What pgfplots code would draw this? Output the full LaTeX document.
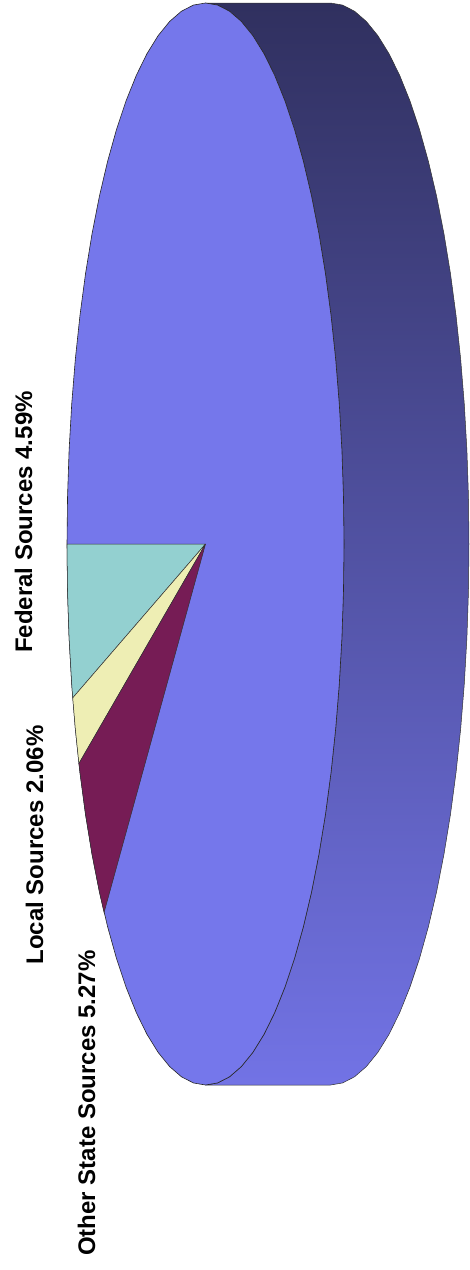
\documentclass[border=0pt]{standalone}
\usepackage{pgfplots}
\pgfplotsset{compat=1.18}
\usepackage{fontspec}
\setmainfont{Liberation Sans}
\definecolor{faceC}{HTML}{7577EB}
\definecolor{tealC}{HTML}{93D0D0}
\definecolor{yelC}{HTML}{EEEEB4}
\definecolor{marC}{HTML}{761C55}
\definecolor{sideTop}{HTML}{30305F}
\definecolor{sideBot}{HTML}{7273E5}
% Shares (percent): Federal 4.59, Local 2.06, Other State 5.27, main 88.08
\begin{document}
\begin{tikzpicture}
\begin{axis}[x=1pt, y=1pt, y dir=reverse, xmin=0, xmax=470, ymin=0, ymax=1270,
  hide axis, clip=false, scale only axis]
% side of the disc
\addplot[draw=black!80, line width=0.5pt, top color=sideTop, bottom color=sideBot, mark=none] coordinates {
(205.50,1085.00)(217.57,1082.94)(229.55,1076.78)(241.35,1066.57)(252.87,1052.37)(264.03,1034.31)(274.75,1012.52)(284.94,987.16)(294.53,958.43)(303.43,926.55)(311.60,891.75)(318.95,854.31)(325.45,814.50)(331.02,772.64)(335.65,729.03)(339.28,684.02)(341.90,637.94)(343.47,591.15)(344.00,544.00)(343.47,496.85)(341.90,450.06)(339.28,403.98)(335.65,358.97)(331.02,315.36)(325.45,273.50)(318.95,233.69)(311.60,196.25)(303.43,161.45)(294.53,129.57)(284.94,100.84)(274.75,75.48)(264.03,53.69)(252.87,35.63)(241.35,21.43)(229.55,11.22)(217.57,5.06)(205.50,3.00)
(330.50,3.00)(342.57,5.06)(354.55,11.22)(366.35,21.43)(377.87,35.63)(389.03,53.69)(399.75,75.48)(409.94,100.84)(419.53,129.57)(428.43,161.45)(436.60,196.25)(443.95,233.69)(450.45,273.50)(456.02,315.36)(460.65,358.97)(464.28,403.98)(466.90,450.06)(468.47,496.85)(469.00,544.00)(468.47,591.15)(466.90,637.94)(464.28,684.02)(460.65,729.03)(456.02,772.64)(450.45,814.50)(443.95,854.31)(436.60,891.75)(428.43,926.55)(419.53,958.43)(409.94,987.16)(399.75,1012.52)(389.03,1034.31)(377.87,1052.37)(366.35,1066.57)(354.55,1076.78)(342.57,1082.94)(330.50,1085.00)(205.50,1085.00)
};
% top face (main slice, State Sources 88.08%)
\addplot[draw=black!85, line width=0.6pt, fill=faceC, mark=none] coordinates {
(67.00,544.00)(67.53,591.15)(69.10,637.94)(71.72,684.02)(75.35,729.03)(79.98,772.64)(85.55,814.50)(92.05,854.31)(99.40,891.75)(107.57,926.55)(116.47,958.43)(126.06,987.16)(136.25,1012.52)(146.97,1034.31)(158.13,1052.37)(169.65,1066.57)(181.45,1076.78)(193.43,1082.94)(205.50,1085.00)(217.57,1082.94)(229.55,1076.78)(241.35,1066.57)(252.87,1052.37)(264.03,1034.31)(274.75,1012.52)(284.94,987.16)(294.53,958.43)(303.43,926.55)(311.60,891.75)(318.95,854.31)(325.45,814.50)(331.02,772.64)(335.65,729.03)(339.28,684.02)(341.90,637.94)(343.47,591.15)(344.00,544.00)(343.47,496.85)(341.90,450.06)(339.28,403.98)(335.65,358.97)(331.02,315.36)(325.45,273.50)(318.95,233.69)(311.60,196.25)(303.43,161.45)(294.53,129.57)(284.94,100.84)(274.75,75.48)(264.03,53.69)(252.87,35.63)(241.35,21.43)(229.55,11.22)(217.57,5.06)(205.50,3.00)(193.43,5.06)(181.45,11.22)(169.65,21.43)(158.13,35.63)(146.97,53.69)(136.25,75.48)(126.06,100.84)(116.47,129.57)(107.57,161.45)(99.40,196.25)(92.05,233.69)(85.55,273.50)(79.98,315.36)(75.35,358.97)(71.72,403.98)(69.10,450.06)(67.53,496.85)(67.00,544.00)
};
% Federal Sources 4.59%
\addplot[draw=black!80, line width=0.5pt, fill=tealC, mark=none] coordinates {
(205.5,544)(67.00,544.00)(67.53,591.15)(69.10,637.94)(71.72,684.02)(72.72,697.87)(205.5,544)
};
% Local Sources 2.06%
\addplot[draw=black!80, line width=0.5pt, fill=yelC, mark=none] coordinates {
(205.5,544)(72.72,697.87)(75.35,729.03)(78.91,763.53)(205.5,544)
};
% Other State Sources 5.27%
\addplot[draw=black!80, line width=0.5pt, fill=marC, mark=none] coordinates {
(205.5,544)(78.91,763.53)(79.98,772.64)(85.55,814.50)(92.05,854.31)(99.40,891.75)(104.08,912.42)(205.5,544)
};
\node[rotate=90, anchor=base, inner sep=0pt, font=\fontsize{24}{28}\selectfont\bfseries] at (axis cs:32,522) {Federal Sources 4.59\%};
\node[rotate=90, anchor=base, inner sep=0pt, font=\fontsize{24}{28}\selectfont\bfseries] at (axis cs:43,845) {Local Sources 2.06\%};
\node[rotate=90, anchor=base, inner sep=0pt, font=\fontsize{24}{28}\selectfont\bfseries] at (axis cs:95,1103) {Other State Sources 5.27\%};
\end{axis}
\path (current axis.south west) rectangle (current axis.north east);
\end{tikzpicture}
\end{document}
